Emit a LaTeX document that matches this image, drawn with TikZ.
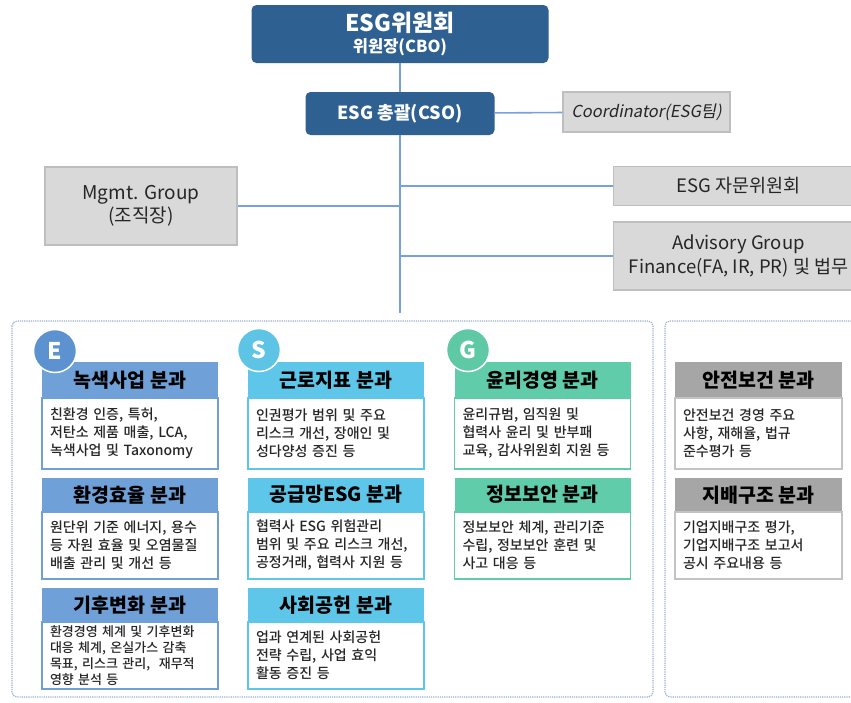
\documentclass[tikz,border=0pt]{standalone}
\usepackage{fontspec}
\setmainfont{Noto Sans CJK KR}[AutoFakeSlant=0.2]
\newfontfamily\krmid{Noto Sans CJK KR Medium}
\usetikzlibrary{positioning}
\definecolor{esgblue}{RGB}{47,96,146}
\definecolor{linkblue}{RGB}{120,160,225}
\definecolor{boxgray}{RGB}{217,217,217}
\definecolor{rimgray}{RGB}{190,190,190}
\definecolor{ecol}{RGB}{111,160,216}
\definecolor{scol}{RGB}{94,199,233}
\definecolor{gcol}{RGB}{96,204,170}
\definecolor{rcol}{RGB}{166,166,166}
\definecolor{rrim}{RGB}{195,195,195}
\definecolor{ebadge}{RGB}{91,146,207}
\definecolor{sbadge}{RGB}{94,196,230}
\definecolor{gbadge}{RGB}{95,200,165}
\definecolor{dotcol}{RGB}{150,175,210}
\definecolor{ink}{RGB}{38,38,38}

\begin{document}
\begin{tikzpicture}[x=1pt,y=-1pt,
  topbox/.style={fill=esgblue,rounded corners=5pt,text=white,font=\bfseries,align=center,inner sep=0pt},
  graybox/.style={fill=boxgray,draw=rimgray,line width=1.2pt,text=ink,align=center,inner sep=0pt},
  link/.style={draw=linkblue,line width=1.6pt},
  group/.style={draw=dotcol,dash pattern=on 1.2pt off 1pt,line width=1.2pt,rounded corners=5pt},
  hdr/.style={fill=#1,minimum width=176pt,minimum height=35pt,inner sep=0pt,anchor=north,font=\fontsize{19.5}{22}\selectfont\bfseries,text=black},
  body/.style={draw=#1,fill=white,line width=1.2pt,minimum width=176pt,minimum height=70pt,text width=160pt,inner xsep=8pt,inner ysep=0pt,align=left,text=ink,font=\krmid\fontsize{14}{18}\selectfont},
  badge/.style={circle,fill=#1,draw=white,line width=1.5pt,minimum size=43pt,inner sep=0pt,text=white,font=\fontsize{23}{23}\selectfont\bfseries}]
\clip (0,0) rectangle (851,702);

\node[topbox,minimum width=297pt,minimum height=58pt] (cbo) at (400,34) {\fontsize{23}{25}\selectfont ESG위원회\\[4pt]\fontsize{16.5}{18}\selectfont 위원장(CBO)};
\node[topbox,minimum width=189pt,minimum height=43pt,font=\fontsize{18}{20}\selectfont\bfseries] (cso) at (400,113.5) {ESG 총괄(CSO)};
\node[graybox,minimum width=167pt,minimum height=40pt,font=\fontsize{16.5}{18}\selectfont\itshape] (coord) at (646.5,112) {Coordinator(ESG팀)};
\node[graybox,minimum width=192pt,minimum height=78pt,font=\fontsize{19}{23}\selectfont] (mgmt) at (141,206) {Mgmt. Group\\(조직장)};
\node[graybox,anchor=west,minimum width=250pt,minimum height=39pt,font=\fontsize{18.5}{20}\selectfont] (forum) at (613,186) {ESG 자문위원회};
\node[graybox,anchor=west,minimum width=250pt,minimum height=68pt,font=\fontsize{18.5}{24}\selectfont] (advis) at (613,256) {Advisory Group\\Finance(FA, IR, PR) 및 법무};
\coordinate (hub) at (401,313);

\draw[link] (cbo) -- (cso);
\draw[link] (cso) -- (coord);
\draw[link] (cso.south) -- (cso.south |- hub);
\draw[link] (mgmt) -- (mgmt -| hub);
\draw[link] (forum) -- (forum -| hub);
\draw[link] (advis) -- (advis -| hub);

\draw[group] (12,321) rectangle (653,697);
\draw[group] (665,321) rectangle (880,697);

\node[hdr=ecol] (eh1) at (130,362) {녹색사업 분과};
\node[body=ecol,below=0pt of eh1,minimum height=71pt] (eb1) {친환경 인증, 특허,\\저탄소 제품 매출, LCA,\\녹색사업 및 Taxonomy};
\node[hdr=ecol,minimum height=33pt] (eh2) at (130,478) {환경효율 분과};
\node[body=ecol,below=0pt of eh2,minimum height=67pt] (eb2) {원단위 기준 에너지, 용수\\등 자원 효율 및 오염물질\\배출 관리 및 개선 등};
\node[hdr=ecol,minimum height=33pt] (eh3) at (130,588) {기후변화 분과};
\node[body=ecol,below=0pt of eh3,minimum height=67pt,font=\krmid\fontsize{13}{16}\selectfont] (eb3) {환경경영 체계 및 기후변화\\대응 체계, 온실가스 감축\\목표, 리스크 관리,\ \ 재무적\\영향 분석 등};

\node[hdr=scol] (sh1) at (336,362) {근로지표 분과};
\node[body=scol,below=0pt of sh1,minimum height=71pt] (sb1) {인권평가 범위 및 주요\\리스크 개선, 장애인 및\\성다양성 증진 등};
\node[hdr=scol,minimum height=33pt] (sh2) at (336,478) {공급망ESG 분과};
\node[body=scol,below=0pt of sh2,minimum height=67pt] (sb2) {협력사 ESG 위험관리\\범위 및 주요 리스크 개선,\\공정거래, 협력사 지원 등};
\node[hdr=scol,minimum height=33pt] (sh3) at (336,588) {사회공헌 분과};
\node[body=scol,below=0pt of sh3,minimum height=67pt] (sb3) {업과 연계된 사회공헌\\전략 수립, 사업 효익\\활동 증진 등};

\node[hdr=gcol] (gh1) at (542.5,362) {윤리경영 분과};
\node[body=gcol,below=0pt of gh1,minimum height=71pt] (gb1) {윤리규범, 임직원 및\\협력사 윤리 및 반부패\\교육, 감사위원회 지원 등};
\node[hdr=gcol,minimum height=33pt] (gh2) at (542.5,478) {정보보안 분과};
\node[body=gcol,below=0pt of gh2,minimum height=67pt] (gb2) {정보보안 체계, 관리기준\\수립, 정보보안 훈련 및\\사고 대응 등};

\node[hdr=rcol,minimum width=167pt] (rh1) at (758.5,362) {안전보건 분과};
\node[body=rrim,below=0pt of rh1,minimum height=71pt,minimum width=167pt,text width=151pt] (rb1) {안전보건 경영 주요\\사항, 재해율, 법규\\준수평가 등};
\node[hdr=rcol,minimum width=167pt,minimum height=33pt] (rh2) at (758.5,478) {지배구조 분과};
\node[body=rrim,below=0pt of rh2,minimum height=67pt,minimum width=167pt,text width=151pt] (rb2) {기업지배구조 평가,\\기업지배구조 보고서\\공시 주요내용 등};

\node[badge=ebadge] (ebd) at (55,351) {E};
\node[badge=sbadge] (sbd) at (259,350) {S};
\node[badge=gbadge] (gbd) at (468,350) {G};
\end{tikzpicture}
\end{document}
